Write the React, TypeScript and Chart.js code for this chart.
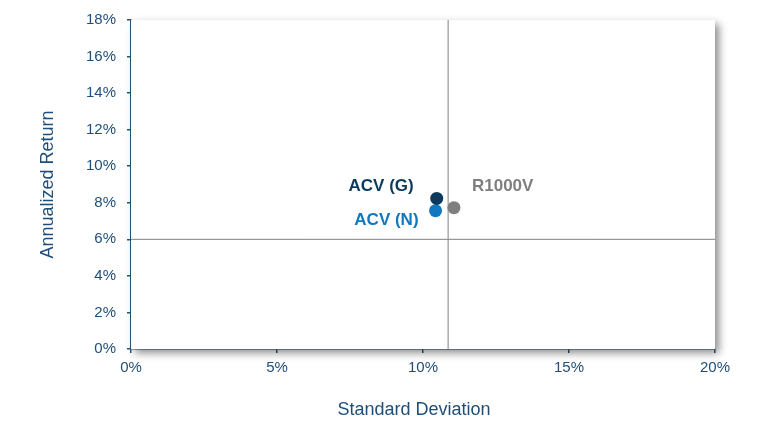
import React, { useEffect, useRef } from "react";
import { Chart, registerables } from "chart.js";

Chart.register(...registerables);

const seriesNames = ["ACV (G)", "ACV (N)", "R1000V"];
const stdDev = [10.47, 10.43, 11.06];
const annReturn = [8.24, 7.57, 7.73];
const pointColors = ["#0c3a5c", "#1078bf", "#7f7f7f"];
const refStdDev = 10.86;
const refReturn = 6;
const xMin = 0, xMax = 20, xStep = 5;
const yMin = 0, yMax = 18, yStep = 2;
const xTitle = "Standard Deviation";
const yTitle = "Annualized Return";

const FONT = "'Liberation Sans', Arial, sans-serif";
const TEXT = "#1f4e79";
const AXIS = "#2b5675";

// label placement relative to point (style only)
const labelPos = [
  { dx: -23, dy: -12, align: "right" },
  { dx: -17, dy: 10, align: "right" },
  { dx: 18, dy: -21, align: "left" },
];

const shadowPlugin = {
  id: "areaShadow",
  beforeDatasetsDraw(chart: any) {
    const { ctx, chartArea } = chart;
    ctx.save();
    ctx.fillStyle = "#ffffff";
    ctx.shadowColor = "rgba(0,0,0,0.45)";
    ctx.shadowBlur = 8;
    ctx.shadowOffsetX = 4;
    ctx.shadowOffsetY = 4;
    ctx.fillRect(chartArea.left, chartArea.top, chartArea.right - chartArea.left, chartArea.bottom - chartArea.top);
    ctx.restore();
  },
};

const labelPlugin = {
  id: "pointLabels",
  afterDatasetsDraw(chart: any) {
    const { ctx, chartArea } = chart;
    ctx.save();
    ctx.font = `bold 17px ${FONT}`;
    ctx.textBaseline = "middle";
    seriesNames.forEach((name, i) => {
      const meta = chart.getDatasetMeta(i + 2);
      const el = meta.data[0];
      if (!el) return;
      const p = labelPos[i];
      ctx.fillStyle = pointColors[i];
      ctx.textAlign = p.align;
      ctx.fillText(name, el.x + p.dx, el.y + p.dy);
    });
    // x axis title
    ctx.font = `18px ${FONT}`;
    ctx.fillStyle = TEXT;
    ctx.textAlign = "center";
    ctx.fillText(xTitle, (chartArea.left + chartArea.right) / 2 - 9, 410);
    ctx.restore();
  },
};

export default function App() {
  const ref = useRef<HTMLCanvasElement>(null);
  useEffect(() => {
    document.body.style.margin = "0";
    const refLineStyle = {
      showLine: true,
      borderColor: "#808080",
      borderWidth: 1,
      pointRadius: 0,
      pointHoverRadius: 0,
    };
    const chart = new Chart(ref.current!, {
      type: "scatter",
      data: {
        datasets: [
          { ...refLineStyle, data: [{ x: refStdDev, y: yMin }, { x: refStdDev, y: yMax }] } as any,
          { ...refLineStyle, data: [{ x: xMin, y: refReturn }, { x: xMax, y: refReturn }] } as any,
          ...seriesNames.map((name, i) => ({
            label: name,
            data: [{ x: stdDev[i], y: annReturn[i] }],
            backgroundColor: pointColors[i],
            borderColor: pointColors[i],
            pointRadius: 6.5,
            borderWidth: 0,
          })),
        ],
      },
      options: {
        animation: false,
        responsive: false,
        maintainAspectRatio: false,
        layout: { padding: { top: 20, right: 50, bottom: 0, left: 0 } },
        plugins: { legend: { display: false }, tooltip: { enabled: false } },
        scales: {
          x: {
            type: "linear",
            min: xMin,
            max: xMax,
            ticks: {
              stepSize: xStep,
              color: TEXT,
              font: { family: FONT, size: 15 },
              padding: 6,
              callback: (v: any) => v + "%",
            },
            grid: { display: true, drawOnChartArea: false, drawTicks: true, tickLength: 4, color: AXIS, lineWidth: 1.5 },
            border: { display: true, color: AXIS, width: 1.5 },
            title: { display: false, text: xTitle },
            afterFit: (s: any) => { s.height = 89; },
          },
          y: {
            type: "linear",
            min: yMin,
            max: yMax,
            ticks: {
              stepSize: yStep,
              color: TEXT,
              font: { family: FONT, size: 15 },
              padding: 11,
              callback: (v: any) => v + "%",
            },
            grid: { display: true, drawOnChartArea: false, drawTicks: true, tickLength: 4, color: AXIS, lineWidth: 1.5 },
            border: { display: true, color: AXIS, width: 1.5 },
            title: { display: true, text: yTitle, color: TEXT, font: { family: FONT, size: 18 }, padding: { top: 37, bottom: 0 } },
            afterFit: (s: any) => { s.width = 131; },
          },
        },
      } as any,
      plugins: [shadowPlugin, labelPlugin],
    });
    return () => chart.destroy();
  }, []);
  return (
    <div style={{ width: 765, height: 438, background: "#fff" }}>
      <canvas ref={ref} width={765} height={438} style={{ display: "block" }} />
    </div>
  );
}
